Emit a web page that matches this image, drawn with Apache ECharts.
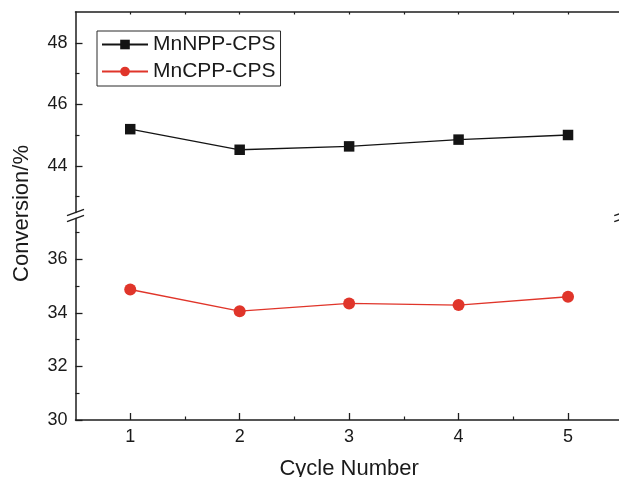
<!DOCTYPE html>
<html>
<head>
<meta charset="utf-8">
<script src="https://cdn.jsdelivr.net/npm/echarts@6/dist/echarts.min.js"></script>
<style>
  html, body { margin: 0; padding: 0; background: #ffffff; }
  #chart { width: 619px; height: 477px; }
</style>
</head>
<body>
<div id="chart"></div>
<script>
// Catalyst recycling test: conversion per cycle
const cycles = [1, 2, 3, 4, 5];
const mnNPP = [45.19, 44.52, 44.63, 44.85, 45.00];
const mnCPP = [34.87, 34.06, 34.35, 34.29, 34.60];
const seriesNames = ['MnNPP-CPS', 'MnCPP-CPS'];

// axis ticks and labels
const upperMajor = [44, 46, 48];
const upperMinor = [43, 45, 47];
const lowerMajor = [30, 32, 34, 36];
const lowerMinor = [31, 33, 35, 37];
const xMajor = [1, 2, 3, 4, 5];
const xMinor = [1.5, 2.5, 3.5, 4.5];
const topTicks = [1, 1.5, 2, 2.5, 3, 3.5, 4, 4.5, 5];

const FONT = '"Liberation Sans", Arial, Helvetica, sans-serif';
const AXIS = '#1e1e1e';
const BLACK = '#141414';
const RED = '#e0352a';

const X_MIN = 0.5, X_MAX = 5.5;
const UP_MIN = 42.48, UP_MAX = 49;
const LO_MIN = 30, LO_MAX = 37.52;

const toPairs = (xs, ys) => xs.map((x, i) => [x, ys[i]]);

function majorY(grid, min, max, major) {
  return {
    type: 'value', gridIndex: grid, position: 'left', min: min, max: max,
    axisLine: { show: true, onZero: false, lineStyle: { color: AXIS, width: 1.5 } },
    axisTick: { show: true, inside: true, length: 7, customValues: major, lineStyle: { color: AXIS, width: 1.3 } },
    axisLabel: { show: true, customValues: major, margin: 8, fontSize: 18, color: '#1a1a1a', fontFamily: FONT },
    splitLine: { show: false }
  };
}
function minorY(grid, min, max, minor) {
  return {
    type: 'value', gridIndex: grid, position: 'left', min: min, max: max,
    axisLine: { show: false },
    axisTick: { show: true, inside: true, length: 4, customValues: minor, lineStyle: { color: AXIS, width: 1.2 } },
    axisLabel: { show: false },
    splitLine: { show: false }
  };
}
function rightY(grid, min, max) {
  return {
    type: 'value', gridIndex: grid, position: 'right', min: min, max: max,
    axisLine: { show: true, onZero: false, lineStyle: { color: AXIS, width: 1.5 } },
    axisTick: { show: false }, axisLabel: { show: false }, splitLine: { show: false }
  };
}

const chart = echarts.init(document.getElementById('chart'), null, { renderer: 'canvas' });

const option = {
  backgroundColor: '#ffffff',
  animation: false,
  grid: [
    { left: 75.5, right: -3.75, top: 12, bottom: 264.5, outerBoundsMode: 'none', containLabel: false },
    { left: 75.5, right: -3.75, top: 218.5, bottom: 57, outerBoundsMode: 'none', containLabel: false }
  ],
  xAxis: [
    { // upper panel plotting axis
      type: 'value', gridIndex: 0, position: 'bottom', min: X_MIN, max: X_MAX, show: false
    },
    { // upper panel top frame with small ticks
      type: 'value', gridIndex: 0, position: 'top', min: X_MIN, max: X_MAX,
      axisLine: { show: true, onZero: false, lineStyle: { color: AXIS, width: 1.5 } },
      axisTick: { show: true, inside: true, length: 2.5, customValues: topTicks, lineStyle: { color: AXIS, width: 1.2 } },
      axisLabel: { show: false }, splitLine: { show: false }
    },
    { // lower panel bottom axis
      type: 'value', gridIndex: 1, position: 'bottom', min: X_MIN, max: X_MAX,
      name: 'Cycle Number', nameLocation: 'middle', nameGap: 38,
      nameTextStyle: { fontSize: 22, color: '#1a1a1a', fontFamily: FONT },
      axisLine: { show: true, onZero: false, lineStyle: { color: AXIS, width: 1.5 } },
      axisTick: { show: true, inside: true, length: 7, customValues: xMajor, lineStyle: { color: AXIS, width: 1.3 } },
      axisLabel: { show: true, customValues: xMajor, margin: 8, fontSize: 18, color: '#1a1a1a', fontFamily: FONT },
      splitLine: { show: false }
    },
    { // lower panel minor ticks
      type: 'value', gridIndex: 1, position: 'bottom', min: X_MIN, max: X_MAX,
      axisLine: { show: false },
      axisTick: { show: true, inside: true, length: 3.5, customValues: xMinor, lineStyle: { color: AXIS, width: 1.2 } },
      axisLabel: { show: false }, splitLine: { show: false }
    }
  ],
  yAxis: [
    majorY(0, UP_MIN, UP_MAX, upperMajor),
    minorY(0, UP_MIN, UP_MAX, upperMinor),
    rightY(0, UP_MIN, UP_MAX),
    majorY(1, LO_MIN, LO_MAX, lowerMajor),
    minorY(1, LO_MIN, LO_MAX, lowerMinor),
    rightY(1, LO_MIN, LO_MAX)
  ],
  legend: {
    data: seriesNames,
    orient: 'vertical',
    left: 97, top: 31,
    padding: [3, 5, 4, 4],
    itemGap: 6,
    itemWidth: 46,
    itemHeight: 12,
    borderColor: '#2a2a2a', borderWidth: 1, borderRadius: 0,
    backgroundColor: '#ffffff',
    textStyle: { fontSize: 21, color: '#1a1a1a', fontFamily: FONT },
    selectedMode: false
  },
  series: [
    {
      name: seriesNames[0], type: 'line', xAxisIndex: 0, yAxisIndex: 0,
      data: toPairs(cycles, mnNPP),
      symbol: 'rect', symbolSize: 10.5,
      itemStyle: { color: BLACK },
      lineStyle: { color: BLACK, width: 1.3 },
      z: 3
    },
    {
      name: seriesNames[1], type: 'line', xAxisIndex: 2, yAxisIndex: 3,
      data: toPairs(cycles, mnCPP),
      symbol: 'circle', symbolSize: 12,
      itemStyle: { color: RED },
      lineStyle: { color: RED, width: 1.3 },
      z: 3
    }
  ],
  graphic: [
    { // y-axis title
      type: 'text', left: 11, top: 145, rotation: Math.PI / 2,
      style: { text: 'Conversion/%', fontSize: 22, fill: '#1a1a1a', fontFamily: FONT }
    }
  ]
};

chart.setOption(option);

// axis break marks on both vertical frame lines, at the gap between the two panels
function breakMarks() {
  const leftX = chart.convertToPixel({ xAxisIndex: 2 }, X_MIN);
  const rightX = chart.convertToPixel({ xAxisIndex: 2 }, X_MAX);
  const yTop = chart.convertToPixel({ yAxisIndex: 0 }, UP_MIN);
  const yBot = chart.convertToPixel({ yAxisIndex: 3 }, LO_MAX);
  const marks = [];
  [leftX, rightX].forEach(function (cx) {
    [yTop, yBot].forEach(function (cy) {
      marks.push({
        type: 'line',
        shape: { x1: cx - 8.5, y1: cy + 3.2, x2: cx + 8.5, y2: cy - 3.2 },
        style: { stroke: AXIS, lineWidth: 1.4 },
        z: 10
      });
    });
  });
  chart.setOption({ graphic: option.graphic.concat(marks) });
}
breakMarks();
</script>
</body>
</html>
